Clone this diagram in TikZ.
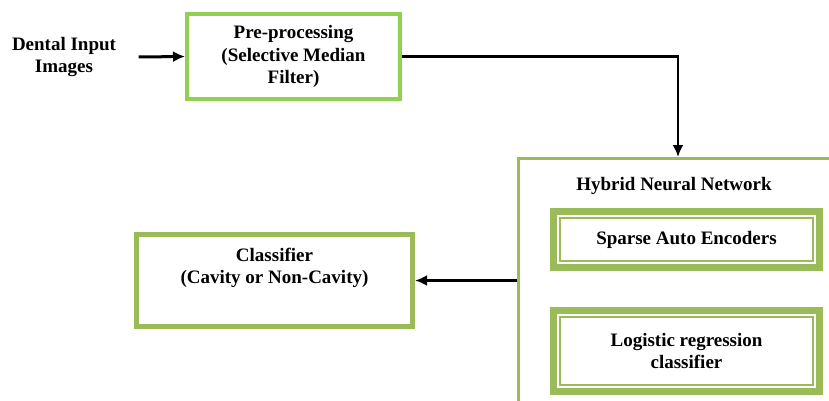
\documentclass[tikz,border=0pt]{standalone}
\usepackage{fontspec}
\setmainfont{Liberation Serif}
\usetikzlibrary{arrows.meta,positioning}
\definecolor{limegreen}{HTML}{92D050}
\definecolor{olivegreen}{HTML}{9BBB59}
\tikzset{
  txt/.style={font=\fontsize{19}{22.5}\selectfont\bfseries, align=center},
  box/.style={txt, draw=olivegreen, line width=5pt, inner sep=0pt},
  dbox/.style={box, line width=7pt, minimum width=266pt},
  link/.style={line width=2.5pt, ->}
}
\begin{document}
\begin{tikzpicture}[x=1pt, y=-1pt, >={Latex[length=12pt,width=11pt]}]
	\path [use as bounding box, clip] (0,0) rectangle (829,401);
	% input and pre-processing
	\node [txt] (input) at (64,57) {Dental Input\\Images};
	\node [box, draw=limegreen, line width=4pt, minimum width=213pt, minimum height=85pt] (prep) at (293.5,56.5) {Pre-processing\\(Selective Median\\Filter)};
	% hybrid network (runs off the page)
	\node [draw=olivegreen, line width=3pt, minimum width=319pt, minimum height=262pt] (hnn) at (678,289.5) {};
	\node [txt] (hnntitle) at (674,186) {Hybrid Neural Network};
	\node [dbox, minimum height=56pt] (sae) at (686.5,239.5) {Sparse Auto Encoders};
	\node [dbox, minimum height=81pt] (lrc) at (686.5,351) {Logistic regression\\classifier};
	\foreach \n in {sae,lrc}
		\draw [olivegreen, line width=1.5pt] ([shift={(10pt,-10pt)}]\n.north west) rectangle ([shift={(-10pt,10pt)}]\n.south east);
	% output
	\node [box, minimum width=276pt, minimum height=92pt] (clf) at (274.5,280.5) {Classifier\\(Cavity or Non-Cavity)\\\strut};
	\draw [link, line width=3pt] ([xshift=19pt]input.east) -- (prep.west);
	\draw [link] (prep.east) -| (hnn.north);
	\draw [link] (hnn.west |- clf.east) -- (clf.east);
\end{tikzpicture}
\end{document}
